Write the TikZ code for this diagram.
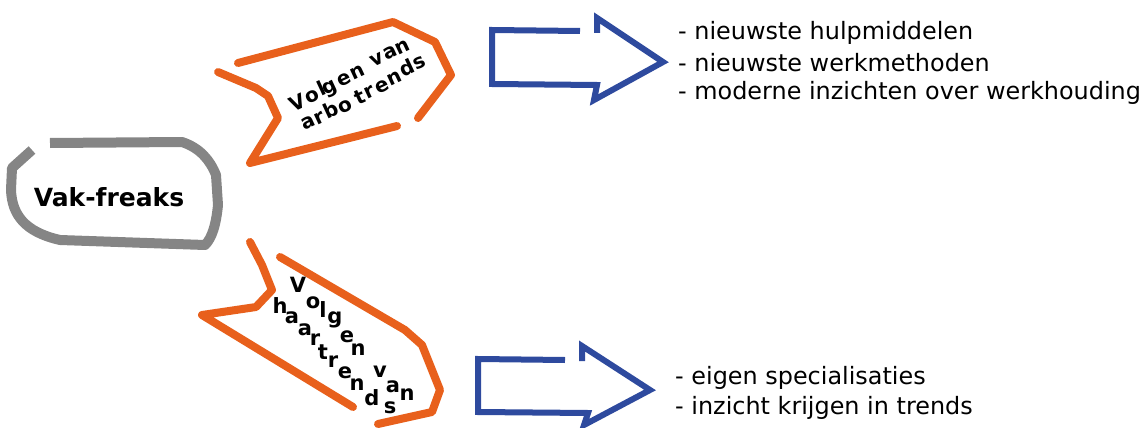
\documentclass[tikz,border=0pt]{standalone}
\usepackage{fontspec}
\setmainfont{DejaVu Sans}
\definecolor{orng}{HTML}{E8601C}
\definecolor{blu}{HTML}{2E4A9E}
\definecolor{gry}{HTML}{858585}
\begin{document}
\begin{tikzpicture}[x=1pt,y=-1pt,
  org/.style={draw=orng, line width=8pt, line join=round, line cap=round},
  blua/.style={draw=blu, line width=6pt, line join=miter},
  gryb/.style={draw=gry, line width=10pt, line join=round},
  lst/.style={anchor=west, font=\fontsize{23.9}{27}\selectfont, inner sep=0pt},
  lt/.style={font=\bfseries\fontsize{20}{20}\selectfont, inner sep=0pt, rotate=25},
  lb/.style={font=\bfseries\fontsize{21}{21}\selectfont, inner sep=0pt}]
\useasboundingbox (0,0) rectangle (1140,428);
% gray blob
\draw[gryb] (50,143) -- (182,142) .. controls (200,148) and (210,160) .. (216,175) -- (218,205) .. controls (216,225) and (212,238) .. (205,245) -- (60,240) .. controls (25,232) and (12,215) .. (11,190) -- (12,168) -- (32,150);
\node[font=\bfseries\fontsize{25}{25}\selectfont] (vak) at (109,197) {Vak-freaks};
% orange top
\draw[org] (238,63) -- (393,22) -- (435,42) -- (451,75) -- (418,118);
\draw[org] (397,126) -- (250,163) -- (278,118) -- (268,96) -- (256,88) -- (218,72);
% orange bottom
\draw[org] (250,242) -- (262,265) -- (272,290) -- (256,307) -- (202,315) -- (353,407);
\draw[org] (280,257) -- (405,330) -- (422,345) -- (440,390) -- (432,412) -- (378,424);
% top letters
\node[lt] (a1) at (297,103) {V};
\node[lt] (a2) at (312,97) {o};
\node[lt] (a3) at (321,88) {l};
\node[lt] (a4) at (331,89) {g};
\node[lt] (a5) at (344,80) {e};
\node[lt] (a6) at (358,72) {n};
\node[lt] (a7) at (377,60) {v};
\node[lt] (a8) at (390,53) {a};
\node[lt] (a9) at (403,47) {n};
\node[lt] (b1) at (308,123) {a};
\node[lt] (b2) at (320,118) {r};
\node[lt] (b3) at (331,110) {b};
\node[lt] (b4) at (345,107) {o};
\node[lt] (b5) at (360,97) {t};
\node[lt] (b6) at (370,92) {r};
\node[lt] (b7) at (382,87) {e};
\node[lt] (b8) at (395,78) {n};
\node[lt] (b9) at (407,68) {d};
\node[lt] (b10) at (420,63) {s};
% bottom letters
\node[lb] (c1) at (298,285) {V};
\node[lb] (c2) at (313,303) {o};
\node[lb] (c3) at (323,310) {l};
\node[lb] (c4) at (335,320) {g};
\node[lb] (c5) at (347,337) {e};
\node[lb] (c6) at (358,350) {n};
\node[lb] (c7) at (380,372) {v};
\node[lb] (c8) at (393,387) {a};
\node[lb] (c9) at (407,395) {n};
\node[lb] (d1) at (280,306) {h};
\node[lb] (d2) at (292,318) {a};
\node[lb] (d3) at (305,330) {a};
\node[lb] (d4) at (315,340) {r};
\node[lb] (d5) at (323,352) {t};
\node[lb] (d6) at (333,362) {r};
\node[lb] (d7) at (345,373) {e};
\node[lb] (d8) at (357,385) {n};
\node[lb] (d9) at (372,398) {d};
\node[lb] (d10) at (390,408) {s};
% blue arrows
\draw[blua] (580,31) -- (492,30) -- (492,84) -- (597,85) -- (594,100) -- (663,62) -- (597,18) -- (597,33);
\draw[blua] (565,360) -- (478,359) -- (478,412) -- (588,413) -- (584,425) -- (650,390) -- (582,346) -- (582,361);
% lists
\node[lst] (t1) at (678,33) {- nieuwste hulpmiddelen};
\node[lst] (t2) at (678,63) {- nieuwste werkmethoden};
\node[lst] (t3) at (678,93) {- moderne inzichten over werkhouding};
\node[lst] (u1) at (675,378) {- eigen specialisaties};
\node[lst] (u2) at (675,408) {- inzicht krijgen in trends};
\end{tikzpicture}
\end{document}
